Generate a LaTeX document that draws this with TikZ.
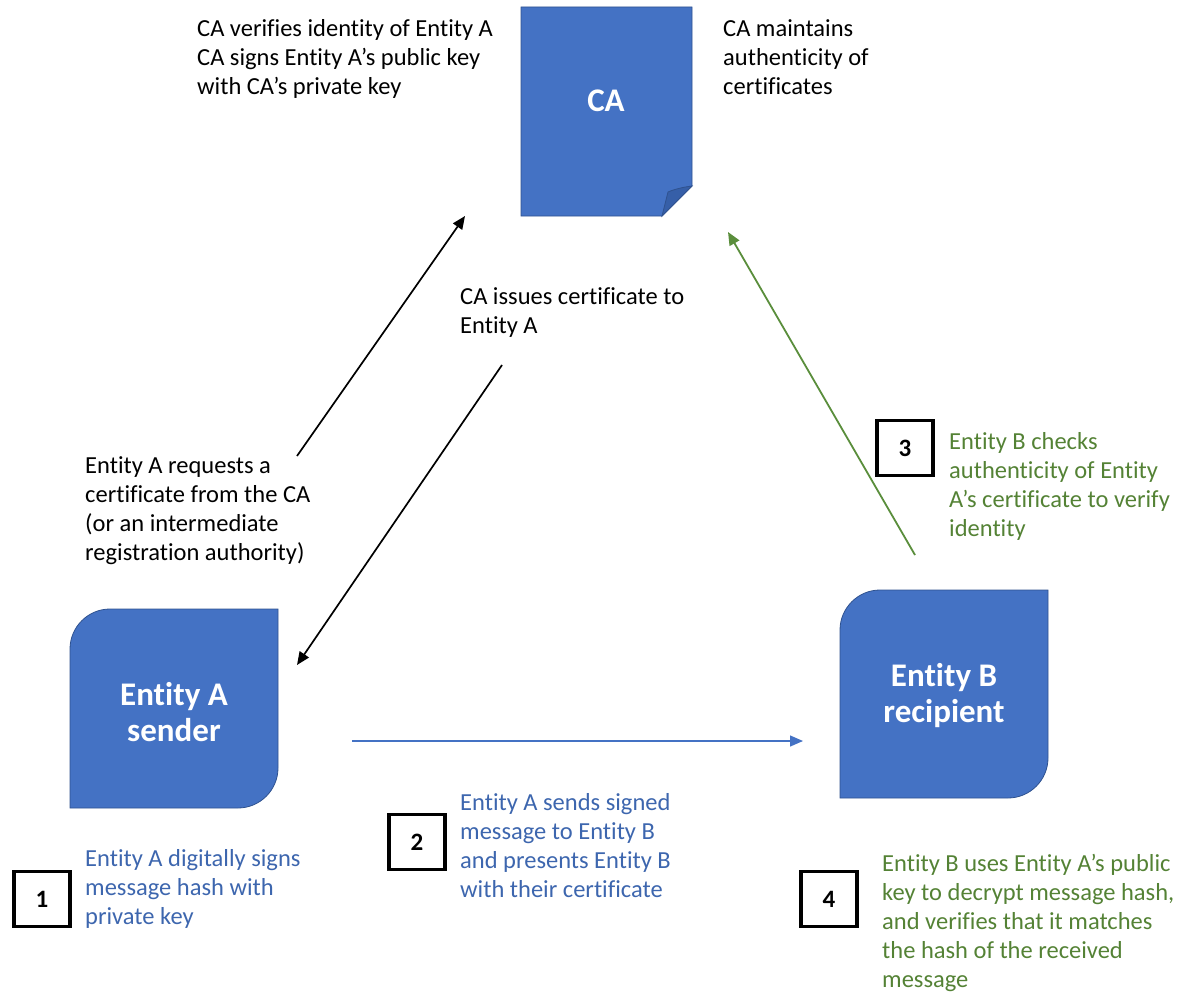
\documentclass[tikz,border=0pt]{standalone}
\usepackage{fontspec}
\setmainfont{Carlito}[RawFeature={-liga;-clig;-calt;-dlig}]
\usetikzlibrary{arrows.meta}
\definecolor{boxblue}{HTML}{4472C4}
\definecolor{edgeblue}{HTML}{2F528F}
\definecolor{foldblue}{HTML}{365FA8}
\definecolor{textblue}{HTML}{3D66AE}
\definecolor{stepgreen}{HTML}{548235}
\definecolor{arrowgreen}{HTML}{5A8E3C}
\begin{document}
\begin{tikzpicture}[x=1pt,y=-1pt,
  body/.style={anchor=north west,inner sep=0pt,align=left,font=\fontsize{24.5}{29}\selectfont},
  boxlabel/.style={anchor=north,inner sep=0pt,align=center,text=white,font=\bfseries\fontsize{33}{36}\selectfont},
  stepnum/.style={draw=black,line width=3.8pt,minimum width=56pt,minimum height=55pt,inner sep=0pt,font=\bfseries\fontsize{25}{30}\selectfont},
  conn/.style={line width=1.7pt,-{Triangle[length=13pt,width=11pt]}},
  shapebox/.style={fill=boxblue,draw=edgeblue,line width=0.8pt}
]
\useasboundingbox (0,0) rectangle (1185,1003);

% certificate authority: a sheet with a folded lower-right corner
\filldraw[shapebox] (521,7) -- (692,7) -- (692,186) -- (662,216) -- (521,216) -- cycle;
\filldraw[fill=foldblue,draw=edgeblue,line width=0.8pt]
  (662,216) -- (668,192) .. controls (675,189) and (684,187) .. (692,186) -- cycle;
\node[boxlabel,anchor=center] (caName) at (606,101) {CA};

% sender and recipient: squares with two rounded corners
\filldraw[shapebox] (70,808) -- (70,649) .. controls (70,627) and (88,609) .. (110,609)
  -- (278,609) -- (278,768) .. controls (278,790) and (260,808) .. (238,808) -- cycle;
\node[boxlabel] (aName) at (174,680) {\strut Entity A\\sender};

\filldraw[shapebox] (840,798) -- (840,630) .. controls (840,608) and (858,590) .. (880,590)
  -- (1048,590) -- (1048,758) .. controls (1048,780) and (1030,798) .. (1008,798) -- cycle;
\node[boxlabel] (bName) at (944,661) {\strut Entity B\\recipient};

% notes
\node[body] (caSteps) at (197,16.5) {\strut CA verifies identity of Entity A\\CA signs Entity A’s public key\\with CA’s private key};
\node[body] (caKeeps) at (723,16.5) {\strut CA maintains\\authenticity of\\certificates};
\node[body] (reqText) at (85,453) {\strut Entity A requests a\\certificate from the CA\\(or an intermediate\\registration authority)};
\node[body] (issueText) at (460,284) {\strut CA issues certificate to\\Entity A};
\node[body,text=stepgreen] (checkText) at (949,428.5) {\strut Entity B checks\\authenticity of Entity\\A’s certificate to verify\\identity};
\node[body,text=stepgreen] (verifyText) at (882,851) {\strut Entity B uses Entity A’s public\\key to decrypt message hash,\\and verifies that it matches\\the hash of the received\\message};
\node[body,text=textblue] (sendText) at (460,789.5) {\strut Entity A sends signed\\message to Entity B\\and presents Entity B\\with their certificate};
\node[body,text=textblue] (signText) at (85,846) {\strut Entity A digitally signs\\message hash with\\private key};

% step numbers
\node[stepnum] (s1) at (42,899) {1};
\node[stepnum] (s2) at (417,842) {2};
\node[stepnum] (s3) at (905,448) {3};
\node[stepnum] (s4) at (829,899) {4};

% message flow
\coordinate (reqFrom) at (297,456);
\coordinate (reqTo) at (465,216);
\coordinate (issFrom) at (502,365);
\coordinate (issTo) at (297,665);
\coordinate (sendFrom) at (352,741);
\coordinate (sendTo) at (803,741);
\coordinate (chkFrom) at (915,555);
\coordinate (chkTo) at (728,232);

\draw[conn] (reqFrom) -- (reqTo);
\draw[conn] (issFrom) -- (issTo);
\draw[conn,draw=boxblue,fill=boxblue,line width=1.3pt] (sendFrom) -- (sendTo);
\draw[conn,draw=arrowgreen,fill=arrowgreen,line width=1.8pt] (chkFrom) -- (chkTo);
\end{tikzpicture}
\end{document}
